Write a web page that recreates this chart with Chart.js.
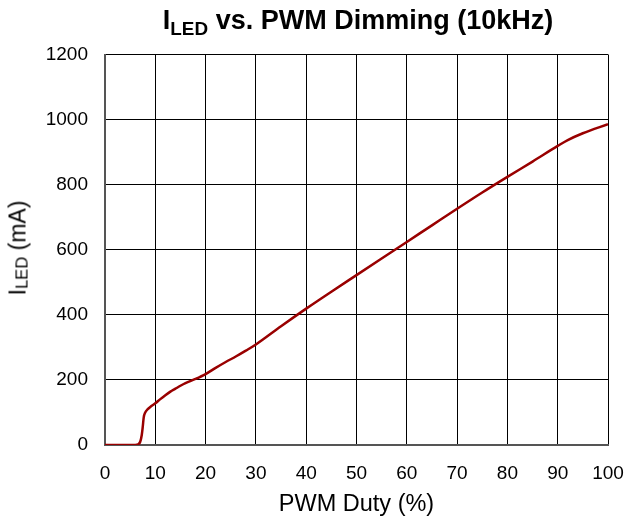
<!DOCTYPE html>
<html>
<head>
<meta charset="utf-8">
<script src="https://cdn.jsdelivr.net/npm/chart.js@4/dist/chart.umd.min.js"></script>
<style>
  html, body { margin: 0; padding: 0; background: #fff; }
  #wrap { position: relative; width: 630px; height: 522px; font-family: "Liberation Sans", Arial, sans-serif; }
  #c { position: absolute; left: 0; top: 0; }
  #title { position: absolute; left: 0; width: 716px; top: 5px; text-align: center; font-weight: bold; font-size: 27px; color: #000; white-space: nowrap; }
  #title sub { font-size: 0.7em; vertical-align: -0.3em; line-height: 0; }
  #ylab sub { font-size: 0.72em; vertical-align: -0.1em; line-height: 0; }
  #ylab { position: absolute; left: 18px; top: 248px; transform: translate(-50%, -50%) rotate(-90deg); font-size: 23px; color: #000; white-space: nowrap; }
</style>
</head>
<body>
<div id="wrap">
  <canvas id="c" width="630" height="522"></canvas>
  <div id="title">I<sub>LED</sub> vs. PWM Dimming (10kHz)</div>
  <div id="ylab">I<sub>LED</sub> (mA)</div>
</div>
<script>
// PWM duty (%)
const duty = [0, 2, 4, 6, 6.6, 7.0, 7.3, 7.5, 7.7, 8.0, 8.5, 9, 10, 11, 12, 13, 14, 15, 16, 18, 20, 22, 24, 26, 28, 30, 35, 40, 45, 50, 55, 60, 65, 70, 75, 80, 85, 90, 92, 95, 100];
// LED current (mA)
const iled = [0, 0, 0, 0, 2, 10, 30, 55, 85, 100, 110, 117, 128, 141, 153, 164, 173, 182, 190, 203, 218, 237, 255, 272, 290, 309, 365, 419, 471, 522, 573, 624, 675, 726, 776, 824, 871, 919, 937, 958, 986];
const xTicks = [0, 10, 20, 30, 40, 50, 60, 70, 80, 90, 100];
const yTicks = [0, 200, 400, 600, 800, 1000, 1200];

const points = duty.map((x, i) => ({ x: x, y: iled[i] }));

new Chart(document.getElementById('c'), {
  type: 'line',
  data: {
    datasets: [{
      data: points,
      borderColor: '#990000',
      borderWidth: 2.5,
      pointRadius: 0,
      fill: false,
      cubicInterpolationMode: 'monotone'
    }]
  },
  options: {
    responsive: false,
    animation: false,
    devicePixelRatio: 1,
    layout: { padding: { left: 0, right: 22, top: 54.5, bottom: 0 } },
    plugins: { legend: { display: false }, tooltip: { enabled: false }, title: { display: false } },
    scales: {
      x: {
        type: 'linear',
        min: xTicks[0],
        max: xTicks[xTicks.length - 1],
        afterBuildTicks: (s) => { s.ticks = xTicks.map(v => ({ value: v })); },
        afterFit: (s) => { s.height = 77; s.paddingLeft = 0; s.paddingRight = 0; },
        ticks: { color: '#000', padding: 17, maxRotation: 0, callback: (v) => String(v), font: { family: 'Liberation Sans', size: 19 } },
        grid: { color: '#000', lineWidth: 1, drawTicks: false },
        border: { color: '#555', width: 2 },
        title: { display: true, text: 'PWM Duty (%)', color: '#000', padding: { top: 0, bottom: 3 }, font: { family: 'Liberation Sans', size: 23.5 } }
      },
      y: {
        type: 'linear',
        min: yTicks[0],
        max: yTicks[yTicks.length - 1],
        afterBuildTicks: (s) => { s.ticks = yTicks.map(v => ({ value: v })); },
        afterFit: (s) => { s.width = 105; s.paddingTop = 0; s.paddingBottom = 0; },
        ticks: { color: '#000', padding: 17, callback: (v) => String(v), font: { family: 'Liberation Sans', size: 19 } },
        grid: { color: '#000', lineWidth: 1, drawTicks: false },
        border: { color: '#555', width: 2 }
      }
    }
  }
});
</script>
</body>
</html>
